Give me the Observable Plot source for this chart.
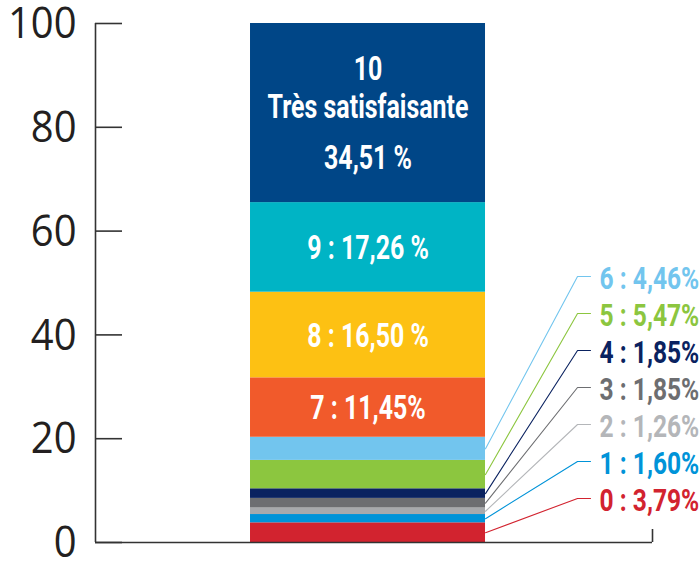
<!DOCTYPE html>
<html><head><meta charset="utf-8">
<script src="https://cdn.jsdelivr.net/npm/d3@7"></script>
<script src="https://cdn.jsdelivr.net/npm/@observablehq/plot@0.6"></script>
<style>
body{margin:0;background:#fff}
#chart svg{display:block;overflow:visible}
</style>
</head><body><div id="chart"></div>
<script>
// ---- data ----
const scores = [0,1,2,3,4,5,6,7,8,9,10];
const shares = [3.79,1.60,1.26,1.85,1.85,5.47,4.46,11.45,16.50,17.26,34.51];
const shareText = ["0 : 3,79%","1 : 1,60%","2 : 1,26%","3 : 1,85%","4 : 1,85%","5 : 5,47%","6 : 4,46%","7 : 11,45%","8 : 16,50 %","9 : 17,26 %","34,51 %"];
const topTitle = ["10","Très satisfaisante"];
const segColors = ["#D2232F","#0093D8","#A7A9AC","#6D6E71","#0A2260","#8CC63F","#72C5EE","#F15A2B","#FDC113","#00B4C5","#004687"];
const labelColors = ["#D2232F","#0093D8","#B4B6B9","#6D6E71","#0A2260","#8CC63F","#72C5EE"];
const yTicks = [0,20,40,60,80,100];

// ---- layout (x in 0..100 layout units) ----
const BAR_X1 = 27.83, BAR_X2 = 70.02, BAR_MID = (BAR_X1 + BAR_X2) / 2;
const TICK_LEN = 4.85, END_TICK = 2.5;
const ELBOW_X = 86.54, LEAD_END = 88.87, LABEL_X = 90.5;
const LABEL_BASE = 8.48, LABEL_STEP = 7.13;

let cum = 0;
const segs = scores.map((s, i) => {
  const y1 = cum; cum += shares[i];
  return {score: s, y1, y2: cum, mid: (y1 + cum) / 2, color: segColors[i], text: shareText[i]};
});
const small = segs.filter(d => d.score <= 6);
const big = segs.filter(d => d.score >= 7 && d.score <= 9);
const topSeg = segs[10];
const topLines = [
  {t: topTitle[0], dy: -44},
  {t: topTitle[1], dy: -6},
  {t: topSeg.text, dy: 45}
];
const leaders = small.flatMap(d => {
  const ly = LABEL_BASE + LABEL_STEP * d.score;
  return [
    {score: d.score, x: BAR_X2, y: d.mid, c: labelColors[d.score]},
    {score: d.score, x: ELBOW_X, y: ly, c: labelColors[d.score]},
    {score: d.score, x: LEAD_END, y: ly, c: labelColors[d.score]}
  ];
});

const AX = "#333333";
const COND = "Roboto, 'Liberation Sans', sans-serif";

const plot = Plot.plot({
  width: 700, height: 562,
  marginLeft: 95, marginRight: 48, marginTop: 23, marginBottom: 20,
  x: {domain: [0, 100], axis: null},
  y: {domain: [0, 100], axis: null},
  color: {type: "identity"},
  style: {fontFamily: "'Open Sans', sans-serif", background: "white", overflow: "visible"},
  marks: [
    Plot.rectY(segs, {x1: () => BAR_X1, x2: () => BAR_X2, y1: "y1", y2: "y2", fill: "color"}),
    Plot.line(leaders, {x: "x", y: "y", z: "score", stroke: "c", strokeWidth: 1.1}),
    Plot.ruleX([0], {y1: 0, y2: 100, stroke: AX, strokeWidth: 1.6}),
    Plot.ruleY([0], {x1: 0, x2: 100, stroke: AX, strokeWidth: 1.6}),
    Plot.ruleX([100], {y1: 0, y2: END_TICK, stroke: AX, strokeWidth: 1.6}),
    Plot.ruleY(yTicks, {y: d => d, x1: 0, x2: TICK_LEN, stroke: AX, strokeWidth: 1.6}),
    Plot.text(yTicks, {x: () => 0, y: d => d, text: d => String(d), textAnchor: "end", dx: -19, dy: 1, fontSize: 43, fill: "#231F20"}),
    Plot.text(big, {x: () => BAR_MID, y: "mid", text: "text", fill: "white", fontSize: 33.5, fontWeight: 700, fontFamily: COND, dy: 1}),
    Plot.text(topLines, {x: () => BAR_MID, y: () => topSeg.mid, text: "t", fill: "white", fontSize: 33.5, fontWeight: 700, fontFamily: COND}),
    Plot.text(small, {x: () => LABEL_X, y: d => LABEL_BASE + LABEL_STEP * d.score, text: "text", textAnchor: "start", fill: d => labelColors[d.score], fontSize: 31.5, fontWeight: 700, fontFamily: COND, dy: 2})
  ]
});
document.getElementById("chart").appendChild(plot);

// condense the bold labels horizontally and apply per-line offsets for the top block
const textGroups = plot.querySelectorAll('g[aria-label="text"]');
function condense(g, s, offsets) {
  g.querySelectorAll("text").forEach((t, i) => {
    let tr = t.getAttribute("transform");
    if (!tr) {
      const x = t.getAttribute("x") || 0, y = t.getAttribute("y") || 0;
      t.removeAttribute("x"); t.removeAttribute("y");
      tr = `translate(${x},${y})`;
    }
    const oy = offsets ? offsets[i] : 0;
    t.setAttribute("transform", `${tr} translate(0,${oy}) scale(${s},1)`);
  });
}
condense(textGroups[0], 0.93);
condense(textGroups[1], 0.745);
condense(textGroups[2], 0.745, topLines.map(d => d.dy));
condense(textGroups[3], 0.78);
</script>
</body></html>
